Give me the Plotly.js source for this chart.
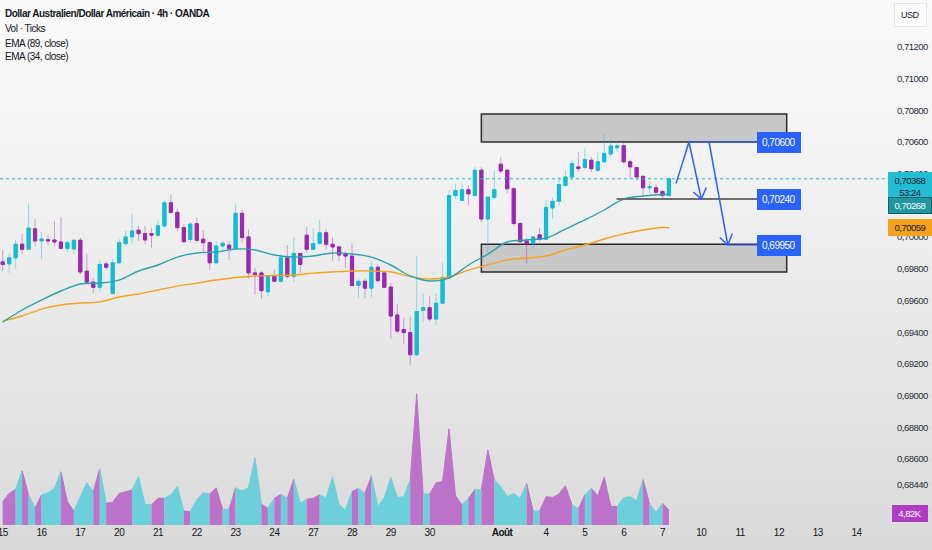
<!DOCTYPE html>
<html><head><meta charset="utf-8">
<script src="https://cdn.plot.ly/plotly-3.0.1.min.js"></script>
<style>
html,body{margin:0;padding:0;width:932px;height:550px;overflow:hidden;background:linear-gradient(to bottom,#fbfbfb 0%,#eeeeee 45%,#dadada 100%);}
#chart{width:932px;height:550px;}
text{letter-spacing:-0.5px;}
</style></head><body><div id="chart"></div>
<script>
// ---- data ----
const openP = [0.69844,0.69831,0.69869,0.69955,0.69923,0.70052,0.69976,0.69984,0.69982,0.69969,
 0.69929,0.69925,0.69980,0.69785,0.69716,0.69683,0.69831,0.69646,0.69838,0.69959,
 0.70001,0.70044,0.70022,0.70022,0.70012,0.70071,0.70216,0.70156,0.70060,0.69985,
 0.70085,0.69987,0.69965,0.69838,0.69944,0.69950,0.69929,0.70150,0.70001,0.69774,
 0.69774,0.69655,0.69753,0.69721,0.69869,0.69753,0.69897,0.70012,0.69923,0.69959,
 0.70027,0.69955,0.69938,0.69895,0.69880,0.69695,0.69721,0.69678,0.69810,0.69774,
 0.69685,0.69509,0.69417,0.69398,0.69258,0.69538,0.69555,0.69483,0.69583,0.69746,
 0.70262,0.70231,0.70299,0.70262,0.70422,0.70114,0.70252,0.70460,0.70422,0.70305,
 0.70086,0.69976,0.69959,0.70014,0.69987,0.70184,0.70226,0.70326,0.70379,0.70443,
 0.70439,0.70485,0.70422,0.70475,0.70524,0.70564,0.70576,0.70475,0.70439,0.70383,
 0.70311,0.70311,0.70288,0.70262];
const highP = [0.69918,0.69895,0.69982,0.70022,0.70211,0.70116,0.70035,0.70014,0.70103,0.70124,
 0.69976,0.69988,0.69997,0.69895,0.69742,0.69859,0.69848,0.69859,0.69987,0.70039,
 0.70146,0.70071,0.70071,0.70057,0.70103,0.70235,0.70269,0.70178,0.70082,0.70092,
 0.70124,0.70044,0.69976,0.69976,0.69976,0.69976,0.70210,0.70171,0.70050,0.69806,
 0.69785,0.69764,0.69795,0.69891,0.69950,0.70001,0.69901,0.70065,0.70057,0.70108,
 0.70050,0.69997,0.69948,0.69908,0.69961,0.69738,0.69738,0.69848,0.69827,0.69776,
 0.69710,0.69576,0.69492,0.69498,0.69880,0.69646,0.69625,0.69646,0.69838,0.70294,
 0.70337,0.70337,0.70326,0.70443,0.70443,0.70262,0.70422,0.70506,0.70432,0.70315,
 0.70092,0.69997,0.70005,0.70057,0.70235,0.70248,0.70379,0.70422,0.70485,0.70538,
 0.70560,0.70506,0.70538,0.70651,0.70617,0.70602,0.70602,0.70490,0.70443,0.70390,
 0.70353,0.70332,0.70294,0.70370];
const lowP = [0.69785,0.69774,0.69797,0.69893,0.69920,0.69944,0.69861,0.69950,0.69944,0.69923,
 0.69901,0.69895,0.69764,0.69710,0.69646,0.69657,0.69789,0.69636,0.69827,0.69944,
 0.69955,0.69976,0.69955,0.69933,0.70001,0.70060,0.70146,0.70039,0.69965,0.69965,
 0.69965,0.69901,0.69791,0.69827,0.69906,0.69859,0.69925,0.69965,0.69738,0.69636,
 0.69611,0.69625,0.69716,0.69710,0.69738,0.69716,0.69774,0.69901,0.69920,0.69955,
 0.69923,0.69848,0.69848,0.69806,0.69689,0.69615,0.69615,0.69619,0.69710,0.69678,
 0.69356,0.69392,0.69328,0.69194,0.69250,0.69466,0.69466,0.69445,0.69580,0.69740,
 0.70241,0.70230,0.70199,0.70260,0.70092,0.69901,0.70241,0.70401,0.70277,0.70071,
 0.69965,0.69831,0.69923,0.69971,0.69980,0.70114,0.70199,0.70320,0.70358,0.70411,
 0.70426,0.70411,0.70411,0.70468,0.70506,0.70538,0.70464,0.70369,0.70358,0.70256,
 0.70277,0.70262,0.70248,0.70256];
const closeP = [0.69827,0.69869,0.69955,0.69923,0.70057,0.69976,0.69988,0.69976,0.69969,0.69929,
 0.69965,0.69980,0.69780,0.69716,0.69683,0.69827,0.69810,0.69838,0.69965,0.70001,
 0.70039,0.70022,0.69982,0.70012,0.70071,0.70216,0.70156,0.70060,0.69971,0.70082,
 0.69980,0.69965,0.69838,0.69944,0.69961,0.69929,0.70150,0.69997,0.69774,0.69764,
 0.69662,0.69753,0.69721,0.69869,0.69753,0.69897,0.69827,0.69923,0.69959,0.70027,
 0.69955,0.69938,0.69887,0.69880,0.69695,0.69721,0.69678,0.69810,0.69725,0.69683,
 0.69502,0.69407,0.69398,0.69258,0.69530,0.69555,0.69483,0.69583,0.69746,0.70262,
 0.70294,0.70299,0.70273,0.70422,0.70114,0.70252,0.70299,0.70417,0.70305,0.70086,
 0.69971,0.69959,0.70001,0.69987,0.70188,0.70226,0.70332,0.70379,0.70464,0.70432,
 0.70490,0.70432,0.70475,0.70528,0.70575,0.70576,0.70475,0.70443,0.70379,0.70311,
 0.70320,0.70283,0.70262,0.70368];
// tick volume, thousands
const volumeK = [7.5,10.2,11.5,17.5,9.7,5.4,9.7,10.4,11.8,17.2,
 7.5,4.5,9.1,13.6,10.8,18.1,7.0,7.3,10.2,10.8,
 11.3,15.6,6.7,6.5,8.6,8.6,9.7,12.4,4.5,4.3,
 8.1,10.4,10.0,12.0,5.1,5.1,12.0,11.0,12.0,21.7,
 6.7,5.4,8.6,9.9,8.6,14.8,7.0,8.3,8.6,9.7,
 8.8,15.5,6.5,4.8,10.8,11.8,10.2,15.9,5.9,8.9,
 15.3,8.9,9.1,14.5,42.3,10.0,10.0,13.6,14.0,31.0,
 9.4,6.5,8.6,11.5,11.3,24.2,14.5,12.4,9.1,10.2,
 8.6,13.4,4.5,4.5,9.1,8.9,10.0,12.7,6.5,5.2,
 9.7,11.8,9.4,15.4,6.1,5.9,8.8,9.1,7.8,14.7,
 6.7,4.1,7.0,4.82];
// colour of the volume segment ending at each bar (c = cyan, p = purple)
const volumeDir = ("cppcpcpccc"+"ppcccpcppp"+"pcccppcccp"+"cccppcpccc"+"cpcpcpccpp"+
 "cccccpcpcc"+"ccccppcppp"+"ppcpcppccc"+"ccpcpppppc"+"pcppppcccc"+"pccp").split('');
const emaIdx = [0,3,6,9,12,15,18,21,24,27,30,33,36,39,42,45,48,51,54,57,60,63,66,69,72,75,78,81,84,87,90,93,96,99,102,103];
const ema34 = [0.69464,0.69540,0.69603,0.69660,0.69704,0.69710,0.69729,0.69786,0.69824,0.69874,
 0.69900,0.69906,0.69925,0.69919,0.69887,0.69874,0.69881,0.69900,0.69893,0.69874,
 0.69824,0.69755,0.69723,0.69742,0.69824,0.69893,0.69969,0.69982,0.69994,0.70051,
 0.70108,0.70171,0.70240,0.70259,0.70269,0.70268];
const ema89 = [0.69471,0.69502,0.69546,0.69572,0.69584,0.69591,0.69622,0.69641,0.69666,0.69691,
 0.69710,0.69729,0.69745,0.69755,0.69758,0.69761,0.69773,0.69780,0.69786,0.69786,
 0.69780,0.69751,0.69736,0.69748,0.69792,0.69824,0.69856,0.69868,0.69881,0.69919,
 0.69950,0.69988,0.70020,0.70045,0.70061,0.70059];
const dayTickPos  = [0,6,12,18,24,30,36,42,48,54,60,66,77.2,84,90,96,102,108,114,120,126,132];
const dayTickText = ['15','16','17','20','21','22','23','24','27','28','29','30','<b>Août</b>','4','5','6','7','10','11','12','13','14'];
const priceTicks = [0.712,0.710,0.708,0.706,0.704,0.700,0.698,0.696,0.694,0.692,0.690,0.688,0.686,0.6844,0.6828];
const lastPrice = 0.70368, countdown = '53:24';
const ema34Last = 0.70268, ema89Last = 0.70059, lastVolK = 4.82;
const zoneHigh = [0.70600, 0.70777];
const zoneLow  = [0.69780, 0.69955];
const targetLevels = [0.70600, 0.70240, 0.69950];

// ---- styling ----
const FONT = "'Liberation Sans',Arial,sans-serif";
const UP = '#12bcd4', DN = '#9c27b0';
const UPW = 'rgba(18,188,212,0.45)', DNW = 'rgba(156,39,176,0.42)';
const VUP = '#6ccfda', VDN = '#bb72c8';
const BLUE = '#2962ff';
const fmt = v => v.toFixed(5).replace('.', ',');

const idx = openP.map((_, i) => i);
const bodyHi = openP.map((o, i) => Math.max(o, closeP[i]));
const bodyLo = openP.map((o, i) => Math.min(o, closeP[i]));

const traces = [];
// volume area, split into runs of one colour
const runs = [];
for (let i = 1; i < volumeK.length; i++) {
  const c = volumeDir[i];
  if (!runs.length || runs[runs.length - 1].c !== c) runs.push({c, x: [i - 1], y: [volumeK[i - 1]]});
  const r = runs[runs.length - 1]; r.x.push(i); r.y.push(volumeK[i]);
}
runs.forEach(r => traces.push({type: 'scatter', mode: 'lines', x: r.x, y: r.y, yaxis: 'y2',
  fill: 'tozeroy', fillcolor: r.c === 'c' ? VUP : VDN,
  line: {color: r.c === 'c' ? VUP : VDN, width: 1}, hoverinfo: 'skip', showlegend: false}));

traces.push({type: 'scatter', mode: 'lines', x: emaIdx, y: ema89, line: {color: '#f7a21b', width: 1.4, shape: 'spline'}, hoverinfo: 'skip'});
traces.push({type: 'scatter', mode: 'lines', x: emaIdx, y: ema34, line: {color: '#2aa3ad', width: 1.4, shape: 'spline'}, hoverinfo: 'skip'});

// wicks
traces.push({type: 'candlestick', x: idx, open: openP, high: highP, low: lowP, close: closeP,
  increasing: {line: {color: UPW, width: 1}, fillcolor: UPW},
  decreasing: {line: {color: DNW, width: 1}, fillcolor: DNW}, hoverinfo: 'skip', showlegend: false});
// bodies
traces.push({type: 'candlestick', x: idx, open: openP, high: bodyHi, low: bodyLo, close: closeP,
  increasing: {line: {color: UP, width: 1}, fillcolor: UP},
  decreasing: {line: {color: DN, width: 1}, fillcolor: DN}, hoverinfo: 'skip', showlegend: false});

const shapes = [
  {type: 'rect', xref: 'x', yref: 'y', x0: 74.0, x1: 121.2, y0: zoneHigh[0], y1: zoneHigh[1], fillcolor: '#c8c8c8', line: {color: '#2b2b2b', width: 1.5}, layer: 'below'},
  {type: 'rect', xref: 'x', yref: 'y', x0: 74.0, x1: 121.2, y0: zoneLow[0], y1: zoneLow[1], fillcolor: '#c8c8c8', line: {color: '#2b2b2b', width: 1.5}, layer: 'below'},
  {type: 'line', xref: 'paper', yref: 'y', x0: 0, x1: 1, y0: lastPrice, y1: lastPrice, line: {color: UP, width: 1, dash: 'dot'}},
  {type: 'line', xref: 'x', yref: 'y', x0: 94.9, x1: 117.0, y0: targetLevels[1], y1: targetLevels[1], line: {color: '#6e6e6e', width: 2}},
  {type: 'line', xref: 'x', yref: 'y', x0: 106.1, x1: 117.0, y0: targetLevels[0], y1: targetLevels[0], line: {color: BLUE, width: 1}},
  {type: 'line', xref: 'x', yref: 'y', x0: 112.1, x1: 117.0, y0: targetLevels[2], y1: targetLevels[2], line: {color: BLUE, width: 1}},
  {type: 'line', xref: 'x', yref: 'y', x0: 104.1, x1: 106.1, y0: 0.70339, y1: targetLevels[0], line: {color: BLUE, width: 1.5}},
  {type: 'line', xref: 'x', yref: 'y', x0: 106.1, x1: 108.0, y0: targetLevels[0], y1: targetLevels[1], line: {color: BLUE, width: 1.5}},
  {type: 'line', xref: 'x', yref: 'y', x0: 109.2, x1: 112.1, y0: targetLevels[0], y1: targetLevels[2], line: {color: BLUE, width: 1.5}},
  {type: 'path', xref: 'x', yref: 'y', xsizemode: 'pixel', ysizemode: 'pixel', xanchor: 108.0, yanchor: targetLevels[1], path: 'M -8 7 L 0 0 L 5 11.5', line: {color: BLUE, width: 1.5}},
  {type: 'path', xref: 'x', yref: 'y', xsizemode: 'pixel', ysizemode: 'pixel', xanchor: 112.1, yanchor: targetLevels[2], path: 'M -8 7.5 L 0 0 L 4.5 11.5', line: {color: BLUE, width: 1.5}}
];

const PH = 525;
const legendLines = [
  {t: '<b>Dollar Australien/Dollar Américain · 4h · OANDA</b>', y: 14},
  {t: 'Vol · Ticks', y: 29},
  {t: 'EMA (89, close)', y: 43},
  {t: 'EMA (34, close)', y: 57}
];
const annotations = legendLines.map(l => ({xref: 'paper', yref: 'paper', x: 0, y: 1 - l.y / PH, xanchor: 'left', yanchor: 'middle', xshift: 3,
  text: l.t, showarrow: false, font: {family: FONT, size: 10, color: '#131722'}}));

targetLevels.forEach(v => annotations.push({xref: 'x', yref: 'y', x: 120.0, y: v, xanchor: 'center', yanchor: 'middle', text: fmt(v), showarrow: false,
  bgcolor: BLUE, bordercolor: BLUE, borderpad: 4, font: {family: FONT, size: 10, color: '#ffffff'}}));

const rLab = (y, yref, text, bg, fg, extra) => Object.assign({xref: 'paper', yref: yref, x: 1, y: y, xanchor: 'left', yanchor: 'middle', xshift: 3,
  text: text, showarrow: false, bgcolor: bg, bordercolor: bg, borderpad: 2, width: 38, align: 'center',
  font: {family: FONT, size: 9.5, color: fg}}, extra || {});
annotations.push(rLab(lastPrice, 'y', fmt(lastPrice) + '<br>' + countdown, '#22bcd4', '#131722', {yanchor: 'top', yshift: 7}));
annotations.push(rLab(ema34Last, 'y', fmt(ema34Last), '#1e97a2', '#ffffff', {yshift: -11, bordercolor: '#0f5f66'}));
annotations.push(rLab(ema89Last, 'y', fmt(ema89Last), '#f7a21b', '#131722'));
annotations.push(rLab(lastVolK, 'y2', lastVolK.toFixed(2).replace('.', ',') + 'K', '#b03cc4', '#ffffff', {yshift: -3, width: 30, xshift: 7}));
annotations.push({xref: 'paper', yref: 'paper', x: 1 + 26 / 885, y: 1 - 15 / PH, xanchor: 'center', yanchor: 'middle', text: 'USD', showarrow: false,
  bgcolor: '#ffffff', bordercolor: '#e0e3eb', borderwidth: 1, borderpad: 6, font: {family: FONT, size: 9, color: '#131722'}});

const layout = {
  width: 932, height: 550, margin: {l: 0, r: 47, t: 0, b: 25},
  paper_bgcolor: 'rgba(0,0,0,0)', plot_bgcolor: 'rgba(0,0,0,0)',
  separators: ', ', showlegend: false, boxmode: 'overlay',
  font: {family: FONT, size: 10, color: '#131722'},
  xaxis: {range: [-0.42, 136.4], rangeslider: {visible: false}, showgrid: false, zeroline: false, showline: false,
    ticks: '', tickmode: 'array', tickvals: dayTickPos, ticktext: dayTickText, ticklabeloverflow: 'allow',
    tickfont: {family: FONT, size: 10, color: '#131722'}, fixedrange: true},
  yaxis: {side: 'right', range: [0.681836, 0.714959], showgrid: false, zeroline: false, showline: false, ticks: '',
    tickmode: 'array', tickvals: priceTicks, tickformat: '.5f', ticklabeloverflow: 'allow',
    tickfont: {family: FONT, size: 9.5, color: '#2a2e39'}, ticklabelstandoff: 11, fixedrange: true},
  yaxis2: {overlaying: 'y', range: [0, 169.35], visible: false, fixedrange: true},
  shapes: shapes, annotations: annotations
};
Plotly.newPlot('chart', traces, layout, {staticPlot: true, displayModeBar: false});
</script></body></html>
